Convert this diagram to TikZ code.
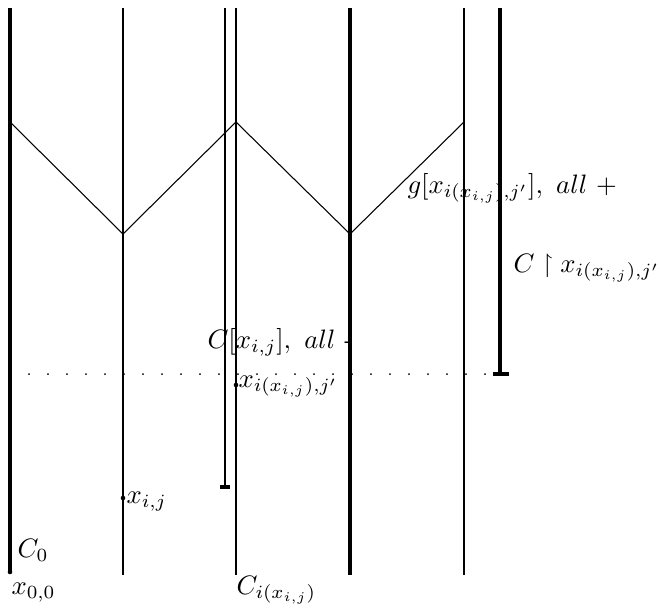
\documentclass[tikz,border=0pt]{standalone}
\usepackage{amssymb}
\begin{document}
\begin{tikzpicture}[x=0.375pt,y=-0.375pt,
  thickln/.style={line width=1.3pt},
  thinln/.style={line width=0.75pt},
  zig/.style={line width=0.4pt},
  lbl/.style={inner sep=0pt,anchor=base west}]
\useasboundingbox (0,0) rectangle (660,610);
% endpoints
\coordinate (a0t) at (10,8);   \coordinate (a0b) at (10,572);
\coordinate (a1t) at (123,8);  \coordinate (a1b) at (123,575);
\coordinate (a2t) at (225,8);  \coordinate (a2b) at (225,487);
\coordinate (a3t) at (236,8);  \coordinate (a3b) at (236,575);
\coordinate (a4t) at (350,8);  \coordinate (a4b) at (350,575);
\coordinate (a5t) at (464,8);  \coordinate (a5b) at (464,575);
\coordinate (a6t) at (500,8);  \coordinate (a6b) at (500,374);
% vertical lines
\draw[thickln] (a0t) -- (a0b);
\draw[thinln] (a1t) -- (a1b);
\draw[thinln] (a2t) -- (a2b);
\draw[thickln] (a2b) ++(-4.5,0) -- ++(9.5,0);
\draw[thinln] (a3t) -- (a3b);
\draw[thickln] (a4t) -- (a4b);
\draw[thinln] (a5t) -- (a5b);
\draw[thickln] (a6t) -- (a6b);
\draw[thickln] (a6b) ++(-7,0) -- ++(16,0);
% zigzag
\coordinate (z0) at (10,122);
\coordinate (z1) at (123,234);
\coordinate (z2) at (236,122);
\coordinate (z3) at (350,234);
\coordinate (z4) at (464,122);
\draw[zig] (z0) -- (z1) -- (z2) -- (z3) -- (z4);
% dotted line
\foreach \k in {0,...,24} {\fill ({29+19*\k},374) circle (1);}
% points
\coordinate (p00) at (10,572);
\coordinate (pij) at (123,498);
\coordinate (pii) at (236,385);
\fill (p00) circle (2.3);
\fill (pij) circle (2.3);
\fill (pii) circle (2.3);
% labels
\node[lbl] (l00) at (11,594) {$x_{0,0}$};
\node[lbl] (lC0) at (17,557) {$C_0$};
\node[lbl] (lij) at (126,503) {$x_{i,j}$};
\node[lbl] (lCi) at (236,594) {$C_{i(x_{i,j})}$};
\node[lbl] (lii) at (238,387) {$x_{i(x_{i,j}),j'}$};
\node[lbl] (lCx) at (207,348) {$C[x_{i,j}],\ all$ -};
\node[lbl] (lg) at (407,193) {$g[x_{i(x_{i,j}),j'}],\ all$ +};
\node[lbl] (lr) at (513,272) {$C\restriction x_{i(x_{i,j}),j'}$};
\end{tikzpicture}
\end{document}
